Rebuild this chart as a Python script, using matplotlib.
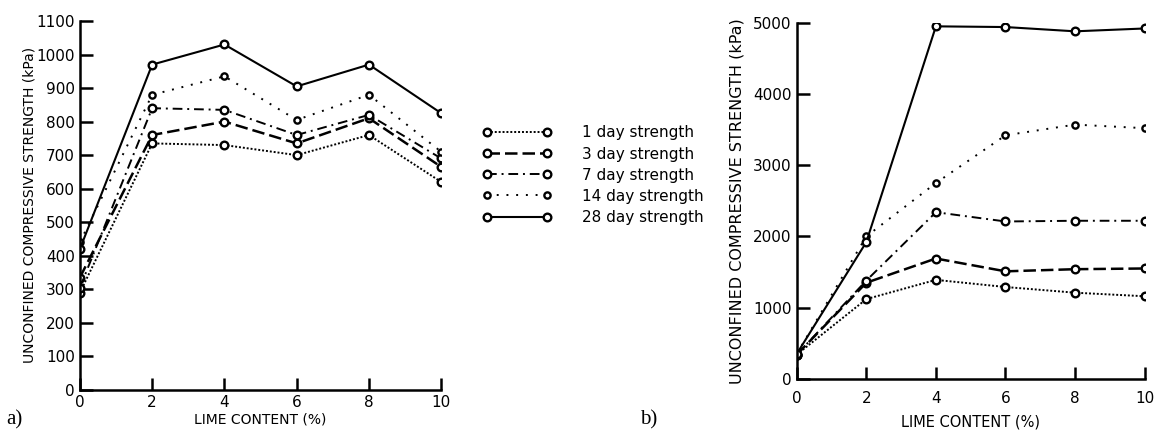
import matplotlib
matplotlib.use("Agg")
import matplotlib.pyplot as plt

# lime content (%)
lime = [0, 2, 4, 6, 8, 10]

series_names = ["1 day strength", "3 day strength", "7 day strength",
                "14 day strength", "28 day strength"]

# panel a) UCS (kPa)
a_1d = [290, 735, 730, 700, 760, 620]
a_3d = [335, 760, 800, 735, 810, 665]
a_7d = [305, 840, 835, 760, 820, 690]
a_14d = [440, 880, 935, 805, 880, 710]
a_28d = [420, 970, 1030, 905, 970, 825]

# panel b) UCS (kPa)
b_1d = [340, 1120, 1390, 1290, 1210, 1160]
b_3d = [340, 1350, 1690, 1510, 1540, 1550]
b_7d = [340, 1380, 2340, 2210, 2220, 2220]
b_14d = [350, 2000, 2750, 3420, 3570, 3520]
b_28d = [350, 1920, 4950, 4940, 4880, 4920]

styles = [
    dict(ls=(0, (1, 1)), lw=1.4, ms=5.5),
    dict(ls=(0, (5, 2)), lw=1.8, ms=5.5),
    dict(ls=(0, (5, 2.5, 1, 2.5)), lw=1.4, ms=5.5),
    dict(ls=(0, (1, 4)), lw=1.4, ms=4.5),
    dict(ls="-", lw=1.5, ms=5.5),
]

plt.rcParams["font.family"] = ["DejaVu Sans"]

fig = plt.figure(figsize=(11.58, 4.38), dpi=100)
ax_a = fig.add_axes([0.069, 0.110, 0.312, 0.842])
ax_b = fig.add_axes([0.688, 0.135, 0.3005, 0.813])


def draw(ax, data):
    handles = []
    for vals, st, name in zip(data, styles, series_names):
        h, = ax.plot(lime, vals, color="black", linestyle=st["ls"], linewidth=st["lw"],
                     marker="o", markersize=st["ms"], markerfacecolor="white",
                     markeredgecolor="black", markeredgewidth=1.7, label=name)
        handles.append(h)
    ax.spines["top"].set_visible(False)
    ax.spines["right"].set_visible(False)
    for s in ("left", "bottom"):
        ax.spines[s].set_linewidth(1.8)
    ax.tick_params(direction="in", length=9, width=1.8, labelsize=11)
    ax.set_xticks(lime)
    ax.set_xlim(0, 10)
    return handles


handles = draw(ax_a, [a_1d, a_3d, a_7d, a_14d, a_28d])
ax_a.set_ylim(0, 1100)
ax_a.set_yticks(range(0, 1101, 100))
ax_a.set_ylabel("UNCONFINED COMPRESSIVE STRENGTH (kPa)", fontsize=10, labelpad=0)
ax_a.set_xlabel("LIME CONTENT (%)", fontsize=10, labelpad=2)

draw(ax_b, [b_1d, b_3d, b_7d, b_14d, b_28d])
ax_b.set_ylim(0, 5000)
ax_b.set_yticks(range(0, 5001, 1000))
ax_b.tick_params(axis="x", pad=9)
ax_b.set_ylabel("UNCONFINED COMPRESSIVE STRENGTH (kPa)", fontsize=11.5, labelpad=6)
ax_b.set_xlabel("LIME CONTENT (%)", fontsize=10.5, labelpad=6)

fig.legend(handles=handles, loc="center left", bbox_to_anchor=(0.405, 0.6),
           frameon=False, fontsize=11, numpoints=2, handlelength=4.5,
           handletextpad=2.0, labelspacing=0.4)

fig.text(0.005, 0.03, "a)", fontsize=15, family="Liberation Serif")
fig.text(0.553, 0.03, "b)", fontsize=15, family="Liberation Serif")

fig.savefig("out.png", dpi=100)
